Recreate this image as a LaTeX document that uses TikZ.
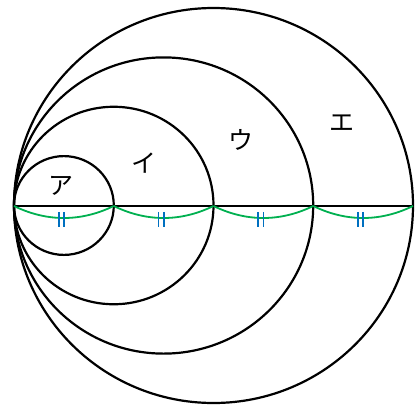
\documentclass[tikz,border=0pt]{standalone}
\usepackage{fontspec}
\usetikzlibrary{calc}
\newfontfamily\jpfont{Noto Sans CJK JP}
\definecolor{mygreen}{RGB}{0,176,80}
\definecolor{myblue}{RGB}{0,112,192}
\begin{document}
\begin{tikzpicture}[x=1pt,y=-1pt,
  circ/.style={draw=black,line width=2.2pt},
  diam/.style={draw=black,line width=2.2pt},
  arcg/.style={draw=mygreen,line width=1.8pt},
  tick/.style={draw=myblue,line width=1.7pt},
  lab/.style={font=\jpfont\fontsize{25}{25}\selectfont,inner sep=0pt}]
\useasboundingbox (0,0) rectangle (418,405);
% circles
\foreach \r in {49.9,99.75,149.6,199.5}{
  \draw[circ] (14+\r,205.5) ellipse [x radius=\r, y radius=0.99*\r];
}
% points
\coordinate (p0) at (14,206);
\coordinate (p1) at (113.75,206);
\coordinate (p2) at (213.5,206);
\coordinate (p3) at (313.25,206);
\coordinate (p4) at (413,206);
\draw[diam] (p0) -- (p4);
% green arcs and ticks
\foreach \a/\b in {0/1,1/2,2/3,3/4}{
  \draw[arcg] (p\a) .. controls ($(p\a)!0.33!(p\b)+(0,16)$) and ($(p\a)!0.67!(p\b)+(0,16)$) .. (p\b);
  \coordinate (m\a) at ($(p\a)!0.5!(p\b)+(-2.5,0)$);
  \draw[tick] ($(m\a)+(-2.6,5.8)$) -- ($(m\a)+(-2.6,21)$);
  \draw[tick] ($(m\a)+(2.6,5.8)$) -- ($(m\a)+(2.6,21)$);
}
% labels
\node[lab] (la) at (61,186) {ア};
\node[lab] (li) at (144,163) {イ};
\node[lab] (lu) at (241,140) {ウ};
\node[lab] (le) at (342,123) {エ};
\end{tikzpicture}
\end{document}
